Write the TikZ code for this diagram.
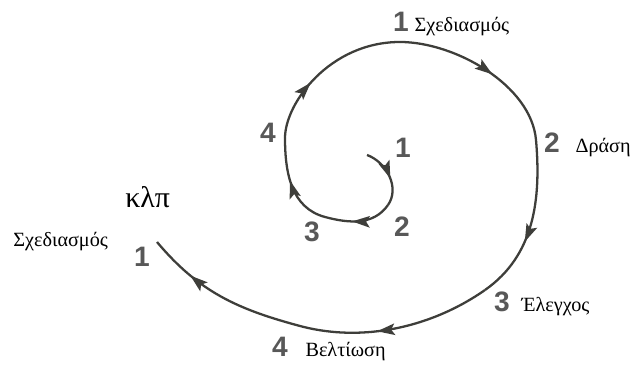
\documentclass[tikz,border=0pt]{standalone}
\usepackage{fontspec}
\setmainfont{Liberation Serif}
\newfontfamily\digitfont{Liberation Sans}
\usepackage{tikz}
\usetikzlibrary{arrows.meta, positioning, decorations.markings}
\definecolor{spiralgray}{RGB}{62,62,58}
\definecolor{numgray}{RGB}{88,88,88}
\tikzset{
  spiral/.style={line width=1.3pt, color=spiralgray},
  midarrow/.style={postaction={decorate}, decoration={markings,
    mark=at position #1 with {\arrow{Stealth[length=10pt,width=6.5pt,inset=2pt]}}}},
  stepnum/.style={inner sep=0pt, text=numgray,
    font=\digitfont\bfseries\fontsize{16}{16}\selectfont},
  stagelabel/.style={inner sep=0pt, font=\fontsize{11.5}{12}\selectfont},
}

\begin{document}
\begin{tikzpicture}[x=0.02cm, y=0.02cm]
  \useasboundingbox (0,0) rectangle (631,367);

  % points of the spiral
  \coordinate (j0) at (367,212);
  \coordinate (j1) at (388,162);
  \coordinate (j2) at (325,150);
  \coordinate (j3) at (285,229);
  \coordinate (j4) at (400,325);
  \coordinate (j5) at (536,227);
  \coordinate (j6) at (485,77);
  \coordinate (j7) at (300,41);
  \coordinate (j8) at (157,125);

  \draw[spiral, midarrow=0.55] (j0) .. controls +(-20:21) and +(55:21) .. (j1);
  \draw[spiral, midarrow=0.6] (j1) .. controls +(235:25) and +(-15:25) .. (j2);
  \draw[spiral, midarrow=0.55] (j2) .. controls +(165:35) and +(270:35) .. (j3);
  \draw[spiral, midarrow=0.38] (j3) .. controls +(90:35) and +(180:70) .. (j4);
  \draw[spiral, midarrow=0.55] (j4) .. controls +(0:55) and +(95:55) .. (j5);
  \draw[spiral, midarrow=0.62] (j5) .. controls +(-85:60) and +(35:60) .. (j6);
  \draw[spiral, midarrow=0.6] (j6) .. controls +(215:65) and +(-15:65) .. (j7);
  \draw[spiral, midarrow=0.72] (j7) .. controls +(165:65) and +(-50:65) .. (j8);

  % inner turn
  \node[stepnum, anchor=base] (i1) at (403,209) {1};
  \node[stepnum, anchor=base] (i2) at (402,130) {2};
  \node[stepnum, anchor=base] (i3) at (312,125) {3};
  \node[stepnum, anchor=base] (i4) at (268,224) {4};

  % outer turn
  \node[stepnum, anchor=base] (o1) at (401,335) {1};
  \node[stagelabel, base right=0.1cm of o1] (plan) {Σχεδιασμός};
  \node[stepnum, anchor=base] (o2) at (552,214) {2};
  \node[stagelabel, base right=0.3cm of o2] (act) {Δράση};
  \node[stepnum, anchor=base] (o3) at (502,55) {3};
  \node[stagelabel, base right=0.22cm of o3] (check) {Έλεγχος};
  \node[stepnum, anchor=base] (o4) at (280,10) {4};
  \node[stagelabel, base right=0.34cm of o4] (improve) {Βελτίωση};

  % next turn
  \node[stepnum, anchor=base] (n1) at (142,100) {1};
  \node[stagelabel, anchor=base west] (replan) at (13,120) {Σχεδιασμός};
  \node[inner sep=0pt, anchor=base west, font=\fontsize{17}{17}\selectfont]
    (etc) at (125,159) {κλπ};
\end{tikzpicture}
\end{document}
